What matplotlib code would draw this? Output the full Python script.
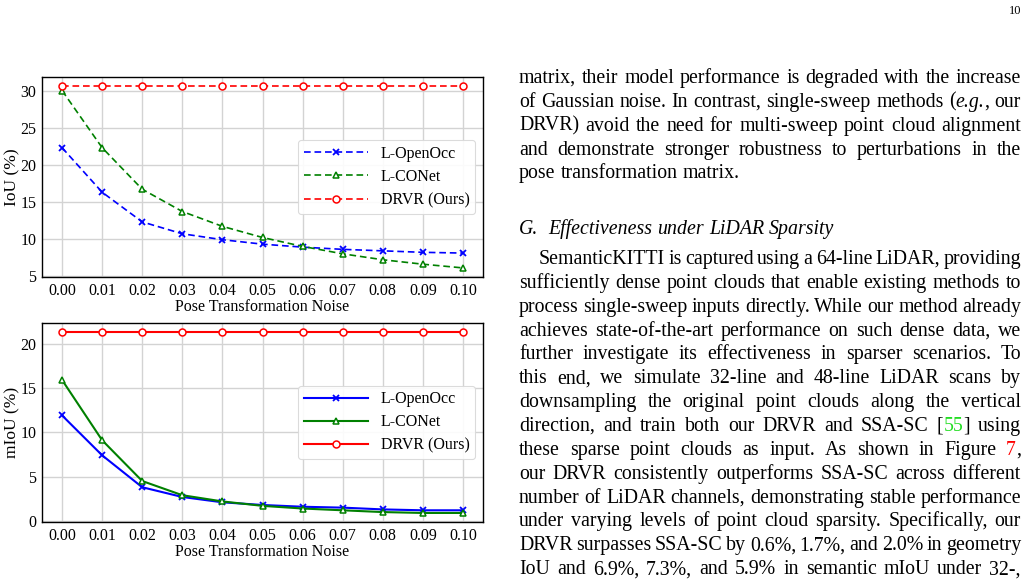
import matplotlib
matplotlib.use("Agg")
import matplotlib.pyplot as plt

# ---- chart data ----
noise = [0.00, 0.01, 0.02, 0.03, 0.04, 0.05, 0.06, 0.07, 0.08, 0.09, 0.10]
noise_labels = ["0.00", "0.01", "0.02", "0.03", "0.04", "0.05", "0.06", "0.07", "0.08", "0.09", "0.10"]

iou_openocc = [22.3, 16.3, 12.3, 10.7, 9.9, 9.3, 8.9, 8.6, 8.4, 8.2, 8.1]
iou_conet = [30.0, 22.3, 16.7, 13.7, 11.7, 10.2, 9.0, 8.0, 7.2, 6.6, 6.1]
iou_drvr = [30.6, 30.6, 30.6, 30.6, 30.6, 30.6, 30.6, 30.6, 30.6, 30.6, 30.6]

miou_openocc = [11.9, 7.4, 3.8, 2.7, 2.1, 1.8, 1.6, 1.5, 1.3, 1.2, 1.2]
miou_conet = [15.9, 9.1, 4.5, 2.9, 2.2, 1.7, 1.4, 1.2, 1.0, 0.9, 0.9]
miou_drvr = [21.3, 21.3, 21.3, 21.3, 21.3, 21.3, 21.3, 21.3, 21.3, 21.3, 21.3]

series_names = ["L-OpenOcc", "L-CONet", "DRVR (Ours)"]

# ---- page text on the right ----
para1 = [
    "matrix, their model performance is degraded with the increase",
    "of Gaussian noise. In contrast, single-sweep methods (*e.g.*, our",
    "DRVR) avoid the need for multi-sweep point cloud alignment",
    "and demonstrate stronger robustness to perturbations in the",
    "pose transformation matrix.",
]
heading = "G.  Effectiveness under LiDAR Sparsity"
para2 = [
    "SemanticKITTI is captured using a 64-line LiDAR, providing",
    "sufficiently dense point clouds that enable existing methods to",
    "process single-sweep inputs directly. While our method already",
    "achieves state-of-the-art performance on such dense data, we",
    "further investigate its effectiveness in sparser scenarios. To",
    "this end, we simulate 32-line and 48-line LiDAR scans by",
    "downsampling the original point clouds along the vertical",
    "direction, and train both our DRVR and SSA-SC [{g}55{k}] using",
    "these sparse point clouds as input. As shown in Figure {r}7{k},",
    "our DRVR consistently outperforms SSA-SC across different",
    "number of LiDAR channels, demonstrating stable performance",
    "under varying levels of point cloud sparsity. Specifically, our",
    "DRVR surpasses SSA-SC by 0.6%, 1.7%, and 2.0% in geometry",
    "IoU and 6.9%, 7.3%, and 5.9% in semantic mIoU under 32-,",
]

plt.rcParams["font.family"] = ["Liberation Serif", "DejaVu Serif"]

W, H = 1030, 583
fig = plt.figure(figsize=(W / 100, H / 100), dpi=100)


def px_axes(left, top, right, bottom):
    return fig.add_axes([left / W, 1 - bottom / H, (right - left) / W, (bottom - top) / H])


def style_axes(ax, ylabel):
    ax.grid(True, color="#d3d3d3", linewidth=1.0)
    ax.set_axisbelow(True)
    for s in ax.spines.values():
        s.set_color("black")
        s.set_linewidth(1.0)
    ax.set_xticks(noise)
    ax.set_xticklabels(noise_labels)
    ax.tick_params(length=0, labelsize=11.5, pad=4)
    ax.set_xlabel("Pose Transformation Noise", fontsize=11.5, labelpad=0)
    ax.set_ylabel(ylabel, fontsize=12.5)
    ax.yaxis.set_label_coords(-0.05, 0.5)
    leg = ax.legend(loc="center right", fontsize=11.5, frameon=True, framealpha=0.9,
                    edgecolor="#d8d8d8", fancybox=True, handlelength=4.0,
                    borderpad=0.35, labelspacing=0.45, handletextpad=0.8,
                    borderaxespad=0.5)
    leg.get_frame().set_linewidth(0.8)


dash = (0, (4, 2.3))
mk = dict(markersize=5, markerfacecolor="white", markeredgewidth=1.1)

ax1 = px_axes(42, 77, 483, 277)
ax1.plot(noise, iou_openocc, linestyle=dash, color="blue", marker="x", label=series_names[0],
         linewidth=1.2, markersize=5, markeredgewidth=1.3)
ax1.plot(noise, iou_conet, linestyle=dash, color="green", marker="^", label=series_names[1],
         linewidth=1.2, **mk)
ax1.plot(noise, iou_drvr, linestyle=dash, color="red", marker="o", label=series_names[2],
         linewidth=1.2, **mk)
ax1.set_yticks([5, 10, 15, 20, 25, 30])
style_axes(ax1, "IoU (%)")

ax2 = px_axes(42, 323, 483, 522)
ax2.plot(noise, miou_openocc, "-", color="blue", marker="x", label=series_names[0],
         linewidth=1.5, markersize=5, markeredgewidth=1.3)
ax2.plot(noise, miou_conet, "-", color="green", marker="^", label=series_names[1], linewidth=1.5, **mk)
ax2.plot(noise, miou_drvr, "-", color="red", marker="o", label=series_names[2], linewidth=1.5, **mk)
ax2.set_yticks([0, 5, 10, 15, 20])
style_axes(ax2, "mIoU (%)")

# ---- justified text column ----
renderer = fig.canvas.get_renderer()
FS = 14.3
X0, X1 = 519, 1021
LINE = 23.85
colors = {"g": "#22dd22", "r": "red", "k": "black"}


def parse_word(word):
    # list of (text, style) pieces; *...* = italic, {g}/{r}/{k} switch colour
    segs = []
    style = {"color": "black"}
    buf = ""
    i = 0
    while i < len(word):
        if word[i] == "{":
            segs.append((buf, dict(style)))
            buf = ""
            style["color"] = colors[word[i + 1]]
            i += 3
        elif word[i] == "*":
            segs.append((buf, dict(style)))
            buf = ""
            if "style" in style:
                del style["style"]
            else:
                style["style"] = "italic"
            i += 1
        else:
            buf += word[i]
            i += 1
    segs.append((buf, dict(style)))
    return [s for s in segs if s[0]]


def width_of(s, **kw):
    t = fig.text(0, 0, s, fontsize=FS, **kw)
    w = t.get_window_extent(renderer).width
    t.remove()
    return w


space_w = width_of("a a") - width_of("aa")


def draw_line(line, y, x_start, justify, italic=False):
    words = []
    total = 0
    for w in line.split(" "):
        pieces = []
        for s, kw in parse_word(w):
            if italic:
                kw["style"] = "italic"
            pw = width_of(s, **kw)
            pieces.append((s, kw, pw))
            total += pw
        words.append(pieces)
    if justify and len(words) > 1:
        gap = (X1 - x_start - total) / (len(words) - 1)
    else:
        gap = space_w
    x = x_start
    for pieces in words:
        for s, kw, pw in pieces:
            fig.text(x / W, 1 - y / H, s, fontsize=FS, va="baseline", ha="left", **kw)
            x += pw
        x += gap


y = 83
for i, ln in enumerate(para1):
    draw_line(ln, y, X0, justify=(i < len(para1) - 1))
    y += LINE

draw_line(heading, 234, X0, justify=False, italic=True)

y = 264
for i, ln in enumerate(para2):
    draw_line(ln, y, X0 + (20 if i == 0 else 0), justify=True)
    y += LINE

fig.text(1021 / W, 1 - 14 / H, "10", fontsize=9, ha="right", va="baseline")

fig.savefig("out.png", dpi=100)
